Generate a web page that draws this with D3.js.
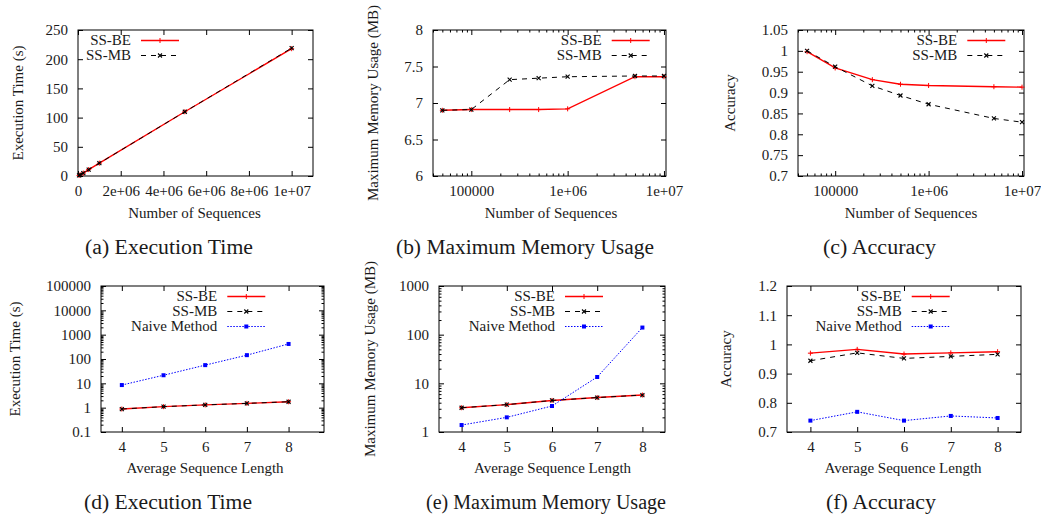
<!DOCTYPE html>
<html><head><meta charset="utf-8">
<script src="https://cdn.jsdelivr.net/npm/d3@7"></script>
<style>
body{margin:0;background:#fff}
svg{display:block}
text{font-family:"Liberation Serif","Times New Roman",serif;fill:#1a1a1a}
</style>
</head><body>
<svg id="chart" width="1041" height="519"></svg>
<script>
// ---------------- DATA ----------------
const numSequences = [50000, 100000, 250000, 500000, 1000000, 5000000, 10000000];
const execTimeBE = [1, 2, 5, 11, 22, 110, 218];
const execTimeMB = [1, 2, 5, 11, 22, 110, 219];
const memoryBE = [6.9, 6.91, 6.91, 6.91, 6.92, 7.36, 7.36];
const memoryMB = [6.9, 6.91, 7.32, 7.34, 7.36, 7.37, 7.37];
const accuracyBE = [0.998, 0.959, 0.931, 0.920, 0.917, 0.914, 0.913];
const accuracyMB = [1.000, 0.962, 0.916, 0.893, 0.872, 0.838, 0.829];

const avgSeqLength = [4, 5, 6, 7, 8];
const lenTimeBE = [0.88, 1.1, 1.3, 1.5, 1.75];
const lenTimeMB = [0.88, 1.1, 1.3, 1.5, 1.75];
const lenTimeNaive = [8.5, 21.5, 56, 144, 415];
const lenMemBE = [3.15, 3.65, 4.45, 5.1, 5.75];
const lenMemMB = [3.15, 3.65, 4.45, 5.1, 5.75];
const lenMemNaive = [1.39, 2.0, 3.42, 13.5, 140];
const lenAccBE = [0.970, 0.983, 0.967, 0.971, 0.975];
const lenAccMB = [0.944, 0.971, 0.952, 0.959, 0.966];
const lenAccNaive = [0.739, 0.769, 0.739, 0.755, 0.748];

const seriesNames = ["SS-BE", "SS-MB", "Naive Method"];

const ticksNumSeqLinear = [0, 2e6, 4e6, 6e6, 8e6, 1e7];
const labelsNumSeqLinear = ["0", "2e+06", "4e+06", "6e+06", "8e+06", "1e+07"];
const ticksNumSeqLog = [1e5, 1e6, 1e7];
const labelsNumSeqLog = ["100000", "1e+06", "1e+07"];
const ticksExecTime = [0, 50, 100, 150, 200, 250];
const ticksMemory = [6, 6.5, 7, 7.5, 8];
const ticksAccuracy = [0.7, 0.75, 0.8, 0.85, 0.9, 0.95, 1, 1.05];
const ticksLen = [4, 5, 6, 7, 8];
const ticksLenTime = [0.1, 1, 10, 100, 1000, 10000, 100000];
const ticksLenMem = [1, 10, 100, 1000];
const ticksLenAcc = [0.7, 0.8, 0.9, 1, 1.1, 1.2];

const xTitles = ["Number of Sequences", "Average Sequence Length"];
const yTitles = ["Execution Time (s)", "Maximum Memory Usage (MB)", "Accuracy"];
const captions = ["(a)  Execution Time", "(b)  Maximum Memory Usage", "(c)  Accuracy",
                  "(d)  Execution Time", "(e)  Maximum Memory Usage", "(f)  Accuracy"];

// ---------------- STYLE ----------------
const styles = [
  {color: "#ff0000", dash: null, marker: "plus", width: 1.4},
  {color: "#000000", dash: "5,5", marker: "cross", width: 1},
  {color: "#0000ff", dash: "1.5,1.5", marker: "square", width: 1}
];
const FS = 15;

const svg = d3.select("#chart");
svg.append("rect").attr("width", 1041).attr("height", 519).attr("fill", "#fff");

function logMinor(domain) {
  const out = [];
  const lo = Math.floor(Math.log10(domain[0])), hi = Math.ceil(Math.log10(domain[1]));
  for (let d = lo; d <= hi; d++) for (let k = 2; k <= 9; k++) {
    const v = k * Math.pow(10, d);
    if (v >= domain[0] && v <= domain[1]) out.push(v);
  }
  return out;
}

function drawPanel(p) {
  const g = svg.append("g");
  const x = (p.xLog ? d3.scaleLog() : d3.scaleLinear()).domain(p.xDomain).range([p.L, p.R]);
  const y = (p.yLog ? d3.scaleLog() : d3.scaleLinear()).domain(p.yDomain).range([p.B, p.T]);

  function styleAxis(sel) {
    sel.select(".domain").remove();
    sel.selectAll("line").attr("stroke", "#000").attr("stroke-width", 1);
    sel.selectAll("text").attr("font-size", FS).attr("font-family", '"Liberation Serif",serif').attr("fill", "#1a1a1a");
    sel.attr("font-family", null).attr("font-size", null);
  }
  const xLabel = d => p.xLabels[p.xTicks.indexOf(d)];
  const yLabel = d => p.yLabels ? p.yLabels[p.yTicks.indexOf(d)] : String(d);

  // major ticks
  g.append("g").attr("transform", `translate(0,${p.B})`)
    .call(d3.axisBottom(x).tickValues(p.xTicks).tickFormat(xLabel).tickSizeInner(-5).tickSizeOuter(0).tickPadding(9))
    .call(styleAxis);
  g.append("g").attr("transform", `translate(0,${p.T})`)
    .call(d3.axisTop(x).tickValues(p.xTicks).tickFormat("").tickSizeInner(-5).tickSizeOuter(0))
    .call(styleAxis);
  g.append("g").attr("transform", `translate(${p.L},0)`)
    .call(d3.axisLeft(y).tickValues(p.yTicks).tickFormat(yLabel).tickSizeInner(-5).tickSizeOuter(0).tickPadding(10))
    .call(styleAxis);
  g.append("g").attr("transform", `translate(${p.R},0)`)
    .call(d3.axisRight(y).tickValues(p.yTicks).tickFormat("").tickSizeInner(-5).tickSizeOuter(0))
    .call(styleAxis);
  // minor ticks on log axes
  if (p.xLog) {
    const mv = logMinor(p.xDomain);
    g.append("g").attr("transform", `translate(0,${p.B})`)
      .call(d3.axisBottom(x).tickValues(mv).tickFormat("").tickSizeInner(-2.5).tickSizeOuter(0)).call(styleAxis);
    g.append("g").attr("transform", `translate(0,${p.T})`)
      .call(d3.axisTop(x).tickValues(mv).tickFormat("").tickSizeInner(-2.5).tickSizeOuter(0)).call(styleAxis);
  }
  if (p.yLog) {
    const mv = logMinor(p.yDomain);
    g.append("g").attr("transform", `translate(${p.L},0)`)
      .call(d3.axisLeft(y).tickValues(mv).tickFormat("").tickSizeInner(-2.5).tickSizeOuter(0)).call(styleAxis);
    g.append("g").attr("transform", `translate(${p.R},0)`)
      .call(d3.axisRight(y).tickValues(mv).tickFormat("").tickSizeInner(-2.5).tickSizeOuter(0)).call(styleAxis);
  }

  // frame
  g.append("rect").attr("x", p.L).attr("y", p.T).attr("width", p.R - p.L).attr("height", p.B - p.T)
    .attr("fill", "none").attr("stroke", "#000").attr("stroke-width", 1);

  // series
  function marker(sel, type, color) {
    if (type === "plus") sel.append("path").attr("d", "M-2.5,0H2.5M0,-2.5V2.5").attr("stroke", color).attr("stroke-width", 1).attr("fill", "none");
    else if (type === "cross") sel.append("path").attr("d", "M-2,-2L2,2M-2,2L2,-2").attr("stroke", color).attr("stroke-width", 1.1).attr("fill", "none");
    else sel.append("rect").attr("x", -2).attr("y", -2).attr("width", 4).attr("height", 4).attr("fill", color);
  }
  p.series.forEach((vals, i) => {
    const st = styles[i];
    const pts = p.xs.map((xv, j) => [xv, vals[j]]);
    const line = d3.line().x(d => x(d[0])).y(d => y(d[1]));
    g.append("path").attr("d", line(pts)).attr("fill", "none").attr("stroke", st.color)
      .attr("stroke-width", st.width).attr("stroke-dasharray", st.dash);
    pts.forEach(d => {
      const m = g.append("g").attr("transform", `translate(${x(d[0])},${y(d[1])})`);
      marker(m, st.marker, st.color);
    });
    // legend
    const ly = p.T + 10.5 + 15 * i;
    g.append("text").attr("x", p.legX - 10).attr("y", ly).attr("dy", "0.33em")
      .attr("text-anchor", "end").attr("font-size", FS).text(seriesNames[i]);
    g.append("line").attr("x1", p.legX).attr("x2", p.legX + 38).attr("y1", ly).attr("y2", ly)
      .attr("stroke", st.color).attr("stroke-width", st.width).attr("stroke-dasharray", st.dash);
    const lm = g.append("g").attr("transform", `translate(${p.legX + 19},${ly})`);
    marker(lm, st.marker, st.color);
  });

  // axis titles
  g.append("text").attr("x", p.xt[0]).attr("y", p.xt[1]).attr("text-anchor", "middle")
    .attr("font-size", 15).text(p.xTitle);
  g.append("text").attr("transform", `translate(${p.yt[0]},${p.yt[1]}) rotate(-90)`)
    .attr("dy", "0.35em").attr("text-anchor", "middle").attr("font-size", 15).text(p.yTitle);

  // caption
  g.append("text").attr("x", p.cap[0]).attr("y", p.cap[1]).attr("font-size", 20)
    .attr("textLength", p.cap[2]).attr("lengthAdjust", "spacingAndGlyphs").text(p.caption);
}

const accLabels = ticksAccuracy.map(v => v === 1 ? "1" : String(v));

drawPanel({L: 78, R: 313, T: 30, B: 176, xLog: false, xDomain: [0, 1.1e7], yDomain: [0, 250],
  xTicks: ticksNumSeqLinear, xLabels: labelsNumSeqLinear, yTicks: ticksExecTime,
  xs: numSequences, series: [execTimeBE, execTimeMB], legX: 141,
  xTitle: xTitles[0], yTitle: yTitles[0], xt: [194.5, 217.5], yt: [18, 103],
  caption: captions[0], cap: [85, 254, 168]});

drawPanel({L: 433, R: 666, T: 30, B: 176, xLog: true, xDomain: [4e4, 1.05e7], yDomain: [6, 8],
  xTicks: ticksNumSeqLog, xLabels: labelsNumSeqLog, yTicks: ticksMemory,
  xs: numSequences, series: [memoryBE, memoryMB], legX: 611.7,
  xTitle: xTitles[0], yTitle: yTitles[1], xt: [551, 217.5], yt: [373, 103],
  caption: captions[1], cap: [396, 254, 258]});

drawPanel({L: 798, R: 1024, T: 30, B: 176, xLog: true, xDomain: [4e4, 1.05e7], yDomain: [0.7, 1.05],
  xTicks: ticksNumSeqLog, xLabels: labelsNumSeqLog, yTicks: ticksAccuracy, yLabels: accLabels,
  xs: numSequences, series: [accuracyBE, accuracyMB], legX: 967.3,
  xTitle: xTitles[0], yTitle: yTitles[2], xt: [911, 217.5], yt: [730, 103],
  caption: captions[2], cap: [823, 254, 113]});

drawPanel({L: 101, R: 324, T: 286, B: 432, xLog: false, yLog: true, xDomain: [3.5, 8.85], yDomain: [0.1, 100000],
  xTicks: ticksLen, xLabels: ticksLen.map(String), yTicks: ticksLenTime, yLabels: ticksLenTime.map(String),
  xs: avgSeqLength, series: [lenTimeBE, lenTimeMB, lenTimeNaive], legX: 227.3,
  xTitle: xTitles[1], yTitle: yTitles[0], xt: [205, 472.7], yt: [14.5, 359],
  caption: captions[3], cap: [84, 509, 168]});

drawPanel({L: 439, R: 665, T: 286, B: 432, xLog: false, yLog: true, xDomain: [3.5, 8.5], yDomain: [1, 1000],
  xTicks: ticksLen, xLabels: ticksLen.map(String), yTicks: ticksLenMem, yLabels: ticksLenMem.map(String),
  xs: avgSeqLength, series: [lenMemBE, lenMemMB, lenMemNaive], legX: 565,
  xTitle: xTitles[1], yTitle: yTitles[1], xt: [552.5, 472.7], yt: [370, 359],
  caption: captions[4], cap: [426, 509, 240]});

drawPanel({L: 787, R: 1021, T: 286, B: 432, xLog: false, xDomain: [3.5, 8.5], yDomain: [0.7, 1.2],
  xTicks: ticksLen, xLabels: ticksLen.map(String), yTicks: ticksLenAcc, yLabels: ticksLenAcc.map(String),
  xs: avgSeqLength, series: [lenAccBE, lenAccMB, lenAccNaive], legX: 911.7,
  xTitle: xTitles[1], yTitle: yTitles[2], xt: [903, 473], yt: [726, 359],
  caption: captions[5], cap: [826, 509, 110]});
</script>
</body></html>
